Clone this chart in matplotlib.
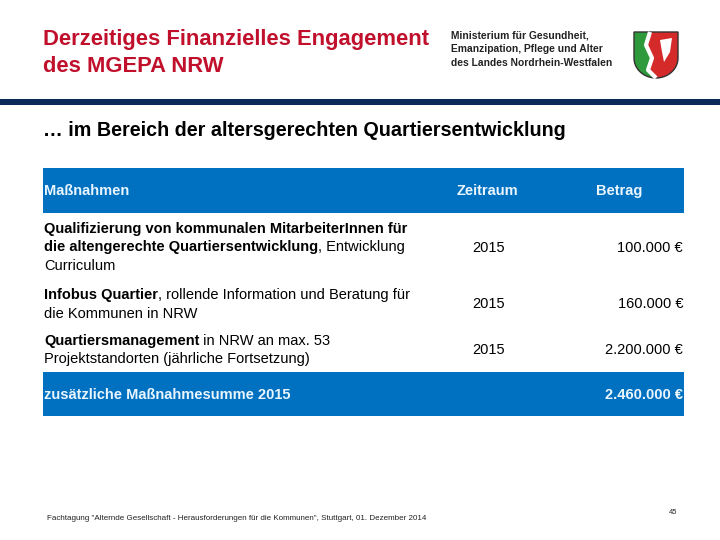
import matplotlib.pyplot as plt
from matplotlib.patches import Rectangle, Polygon
import numpy as np

plt.rcParams['font.family'] = ['Liberation Sans', 'DejaVu Sans']

# slide texts
title_lines = ['Derzeitiges Finanzielles Engagement', 'des MGEPA NRW']
ministry_lines = ['Ministerium für Gesundheit,', 'Emanzipation, Pflege und Alter',
                  'des Landes Nordrhein-Westfalen']
subtitle = '… im Bereich der altersgerechten Quartiersentwicklung'
headers = ['Maßnahmen', 'Zeitraum', 'Betrag']

# each measure: list of lines, each line a list of (text, bold) segments
measures = [
    [[('Qualifizierung von kommunalen MitarbeiterInnen für', True)],
     [('die altengerechte Quartiersentwicklung', True), (', Entwicklung', False)],
     [('Curriculum', False)]],
    [[('Infobus Quartier', True), (', rollende Information und Beratung für', False)],
     [('die Kommunen in NRW', False)]],
    [[('Quartiersmanagement', True), (' in NRW an max. 53', False)],
     [('Projektstandorten (jährliche Fortsetzung)', False)]],
]
periods = ['2015', '2015', '2015']
amounts = [100000, 160000, 2200000]
total_label = 'zusätzliche Maßnahmesumme 2015'
total_amount = 2460000
footer = ('Fachtagung "Alternde Gesellschaft - Herausforderungen für die Kommunen", '
          'Stuttgart, 01. Dezember 2014')
page_no = '45'


def euro(v):
    return f'{v:,.0f}'.replace(',', '.') + ' €'


fig = plt.figure(figsize=(7.2, 5.4), dpi=100)
ax = fig.add_axes([0, 0, 1, 1])
ax.set_xlim(0, 720)
ax.set_ylim(540, 0)
ax.axis('off')
renderer = fig.canvas.get_renderer()

red = '#c0102c'
blue = '#0070c0'
navy = '#0a2a5a'
head_col = '#eaf6ff'

# title
for i, line in enumerate(title_lines):
    ax.text(43, 40 + i * 26, line, color=red, fontsize=15.8, fontweight='bold',
            va='center', ha='left')

# ministry name
for i, line in enumerate(ministry_lines):
    ax.text(451, 36 + i * 13.5, line, color='#222222', fontsize=7.4,
            fontweight='bold', va='center', ha='left')

# coat of arms (simplified)
t = np.linspace(0, np.pi / 2, 20)
left_edge = [(634, 32)] + [(634 + 22 * (1 - np.cos(a)), 58 + 20 * np.sin(a)) for a in t]
right_edge = [(678 - 22 * (1 - np.cos(a)), 58 + 20 * np.sin(a)) for a in t][::-1] + [(678, 32)]
shield = left_edge + right_edge
ax.add_patch(Polygon(shield, closed=True, facecolor='#d42a2a', edgecolor='none'))
green = [(634, 32), (650, 32), (646, 45), (652, 58), (648, 70), (656, 78)] + left_edge[::-1][:-1]
ax.add_patch(Polygon(green, closed=True, facecolor='#2e9a3c', edgecolor='none'))
wave_x = [650, 646, 652, 648, 656]
wave_y = [32, 45, 58, 70, 78]
ax.plot(wave_x, wave_y, color='white', lw=3, solid_capstyle='butt')
ax.add_patch(Polygon([(660, 40), (672, 38), (670, 52), (664, 62), (662, 52)],
                     closed=True, facecolor='white', edgecolor='none'))
ax.add_patch(Polygon(shield, closed=True, facecolor='none', edgecolor='#333333', lw=1))

# navy divider
ax.add_patch(Rectangle((0, 99), 720, 6, facecolor=navy, edgecolor='none'))

# subtitle
ax.text(43, 130, subtitle, fontsize=14.2, fontweight='bold', color='black',
        va='center', ha='left')

# table header
ax.add_patch(Rectangle((43, 168), 641, 45, facecolor=blue, edgecolor='none'))
head_x = [44, 457, 596]
for x, h in zip(head_x, headers):
    ax.text(x, 191, h, color=head_col, fontsize=10.5, fontweight='bold',
            va='center', ha='left')

# rows
row_tops = [229, 295, 341]
line_gap = 18.5
for top, lines, per, amt in zip(row_tops, measures, periods, amounts):
    for j, segs in enumerate(lines):
        x = 44
        y = top + j * line_gap
        for txt, bold in segs:
            tt = ax.text(x, y, txt, fontsize=10.5, color='black',
                         fontweight='bold' if bold else 'normal',
                         va='center', ha='left')
            bb = tt.get_window_extent(renderer=renderer)
            x += bb.width
    mid = top + (len(lines) - 1) * line_gap / 2
    if len(lines) == 3:
        mid = top + line_gap
    ax.text(472, mid, per, fontsize=10.5, color='black', va='center', ha='left')
    ax.text(683, mid, euro(amt), fontsize=10.5, color='black', va='center', ha='right')

# total bar
ax.add_patch(Rectangle((43, 372), 641, 44, facecolor=blue, edgecolor='none'))
ax.text(44, 395, total_label, color=head_col, fontsize=10.5, fontweight='bold',
        va='center', ha='left')
ax.text(683, 395, euro(total_amount), color=head_col, fontsize=10.5, fontweight='bold',
        va='center', ha='right')

# footer
ax.text(47, 518, footer, fontsize=5.8, color='#222222', va='center', ha='left')
ax.text(673, 513, page_no, fontsize=5.5, color='#222222', va='center', ha='center')

fig.savefig('out.png', dpi=100)
